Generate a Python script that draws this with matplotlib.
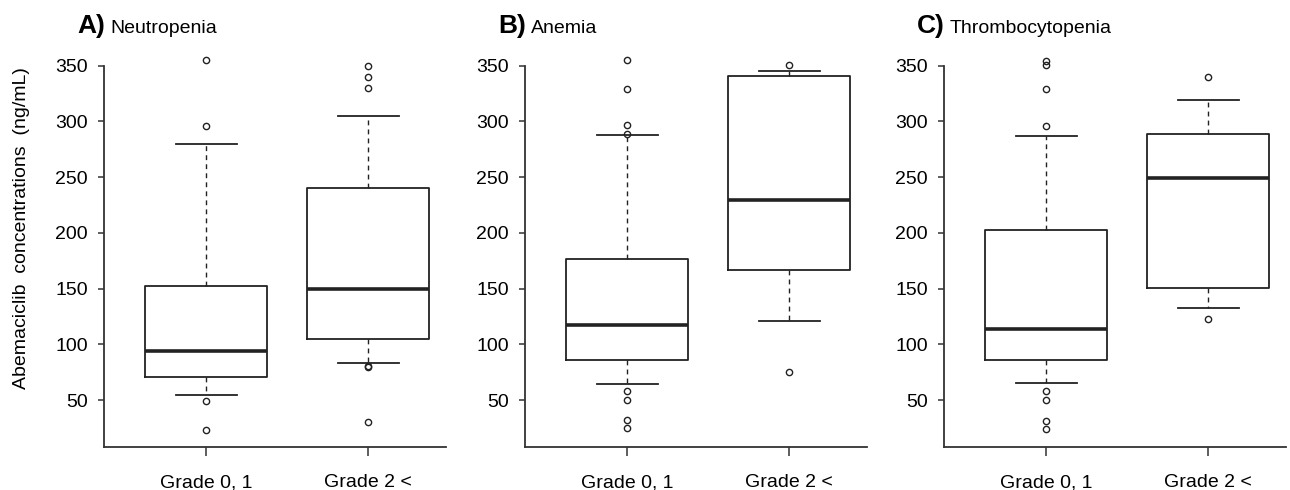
import matplotlib
matplotlib.use("Agg")
import matplotlib.pyplot as plt

plt.rcParams['font.family'] = ['Liberation Sans', 'DejaVu Sans']

groups = ["Grade 0, 1", "Grade 2 <"]
panel_letters = ["A)", "B)", "C)"]
panel_names = ["Neutropenia", "Anemia", "Thrombocytopenia"]

# box summaries per panel: [grade 0-1, grade 2+]
q1 = [[70.6, 104.8], [86.2, 167.1], [85.7, 150.8]]
med = [[94.0, 150.0], [117.2, 229.3], [114.2, 249.2]]
q3 = [[152.7, 240.0], [176.7, 340.5], [202.7, 289.1]]
whislo = [[54.8, 83.2], [64.5, 121.0], [65.0, 133.1]]
whishi = [[280.2, 305.0], [287.8, 345.5], [287.0, 319.1]]
fliers = [
    [[355.4, 296.0, 49.0, 23.0], [350.0, 340.0, 329.6, 80.8, 80.0, 30.5]],
    [[355.4, 329.5, 296.5, 289.1, 58.0, 50.3, 31.8, 24.7], [350.6, 75.5]],
    [[354.5, 350.6, 329.0, 296.0, 58.4, 50.6, 31.6, 24.2], [339.8, 122.5]],
]

yticks = [50, 100, 150, 200, 250, 300, 350]
ylim = (8, 370)

W, H = 1290, 490
fig = plt.figure(figsize=(W / 100, H / 100), dpi=100)

lefts = [104, 525, 944]
bottom_px, top_px = 447, 43.4
for i in range(3):
    ax = fig.add_axes([lefts[i] / W, 1 - bottom_px / H, 342 / W, (bottom_px - top_px) / H])
    stats = []
    for j in range(2):
        stats.append(dict(med=med[i][j], q1=q1[i][j], q3=q3[i][j],
                          whislo=whislo[i][j], whishi=whishi[i][j],
                          fliers=fliers[i][j]))
    ax.bxp(stats, positions=[1, 2], widths=0.75, capwidths=0.375,
           boxprops=dict(color='#222222', linewidth=1.3),
           medianprops=dict(color='#222222', linewidth=2.6),
           whiskerprops=dict(color='#222222', linewidth=1.0, linestyle=(0, (3.5, 3))),
           capprops=dict(color='#222222', linewidth=1.3),
           flierprops=dict(marker='o', markersize=4.5, markerfacecolor='none',
                           markeredgecolor='#222222', markeredgewidth=1.0))
    ax.set_xlim(0.37, 2.48)
    ax.set_ylim(*ylim)
    ax.set_yticks(yticks)
    ax.set_xticks([1, 2])
    ax.set_xticklabels(groups)
    for s in ['top', 'right']:
        ax.spines[s].set_visible(False)
    ax.spines['left'].set_bounds(ylim[0], 350)
    for s in ['left', 'bottom']:
        ax.spines[s].set_color('#333333')
        ax.spines[s].set_linewidth(1.3)
    ax.tick_params(axis='y', length=4.5, width=1.1, color='#333333', pad=7, labelsize=14)
    ax.tick_params(axis='x', length=6.5, width=1.1, color='#333333', pad=13, labelsize=14)
    fx = (lefts[i] - 27) / W
    fig.text(fx, 1 - 33 / H, panel_letters[i], fontsize=19, fontweight='bold', ha='left', va='baseline')
    fig.text(fx + 33 / W, 1 - 33 / H, panel_names[i], fontsize=14, ha='left', va='baseline')

fig.text(22 / W, 1 - 228 / H, "Abemaciclib  concentrations  (ng/mL)", rotation=90,
         fontsize=14, ha='center', va='center')

fig.savefig("out.png", dpi=100)
